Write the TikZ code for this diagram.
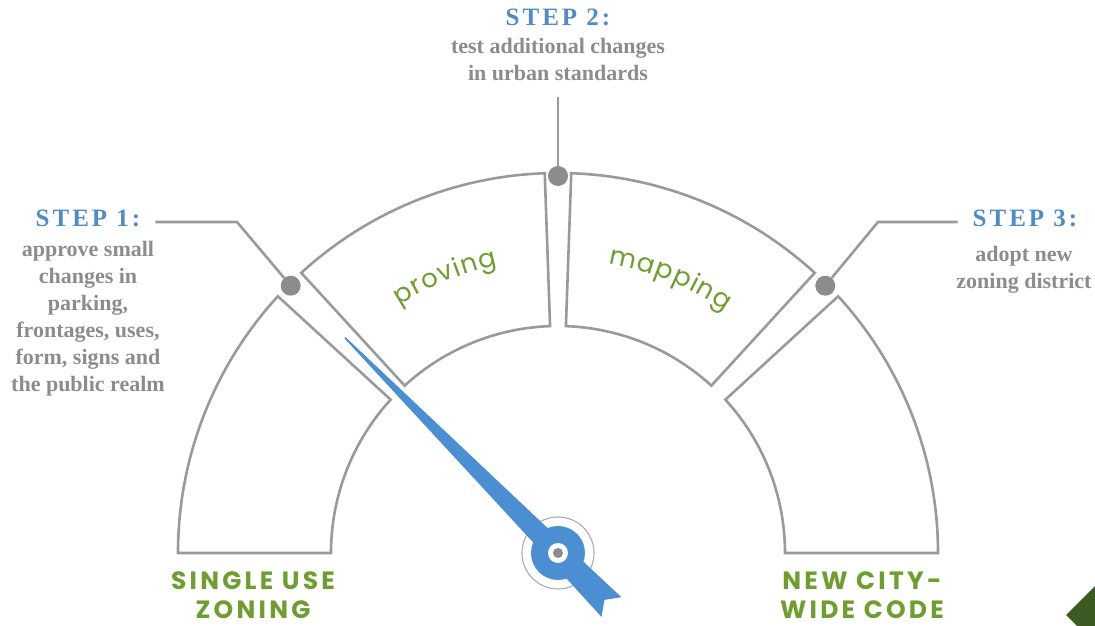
\documentclass[tikz,border=0pt]{standalone}
\usepackage{fontspec}
\setmainfont{Liberation Serif}
\newfontfamily\gaugefont{Poppins}
\usepackage{xcolor}
\usetikzlibrary{decorations.text}

\definecolor{stepblue}{HTML}{4F8BC9}
\definecolor{textgray}{HTML}{8C8C8C}
\definecolor{rimgray}{HTML}{9A9A9A}
\definecolor{ringgray}{HTML}{ABABAB}
\definecolor{zonegreen}{HTML}{6E9E2E}
\definecolor{needleblue}{HTML}{4B8FD2}
\definecolor{cornergreen}{HTML}{3D5A23}

\newcommand{\steptitle}{\fontsize{25}{30}\selectfont\bfseries\addfontfeatures{LetterSpace=12}}
\newcommand{\stepbody}{\fontsize{22}{27}\selectfont\bfseries}
\newcommand{\zonelabel}{\gaugefont\fontsize{25}{29}\selectfont\bfseries\addfontfeatures{LetterSpace=13}}
\newcommand{\arcfont}{\gaugefont\fontsize{26}{26}\selectfont}

\begin{document}
\begin{tikzpicture}[x=1pt,y=1pt,
  rim/.style={draw=rimgray, line width=2.6pt},
  leader/.style={draw=rimgray, line width=2.6pt},
  pin/.style={circle, fill=textgray, inner sep=0pt, minimum size=20pt},
  title/.style={text=stepblue, font=\steptitle, inner xsep=15pt, inner ysep=0pt},
  body/.style={text=textgray, font=\stepbody, align=center, inner sep=0pt},
  zone/.style={text=zonegreen, font=\zonelabel, align=center, inner sep=0pt},
  arclabel/.style={decorate, decoration={text effects along path, text={#1}, text align=center,
    text effects/.cd, text along path,
    character widths={font=\arcfont, inner xsep=0.6pt},
    characters={text=zonegreen, font=\arcfont, inner xsep=0.6pt}}}]
\useasboundingbox (-558,-73) rectangle (537,553);

% gauge segments
\foreach \a/\b in {180/137.5, 132.5/92, 88/47.5, 42.5/0}
  \draw[rim] (\a:380) arc (\a:\b:380) -- (\b:227) arc (\b:\a:227) -- cycle;

\path[arclabel=proving] (132.5:294) arc (132.5:92:294);
\path[arclabel=mapping] (88:294) arc (88:47.5:294);

% steps
\node[title] (step1) at (-470,335) {STEP 1:};
\node[body, anchor=north] (step1txt) at (-470,312)
  {approve small\\changes in\\parking,\\frontages, uses,\\form, signs and\\the public realm};
\node[title] (step2) at (0,536) {STEP 2:};
\node[body, anchor=north] (step2txt) at (0,515) {test additional changes\\in urban standards};
\node[title] (step3) at (467,335) {STEP 3:};
\node[body, anchor=north] (step3txt) at (466,307) {adopt new\\zoning district};

\coordinate (elbow1) at (-321,331);
\coordinate (elbow3) at (320,331);
\node[pin] (pin1) at (135:378) {};
\node[pin] (pin2) at (90:377) {};
\node[pin] (pin3) at (45:378) {};

\draw[leader] (step1.east |- elbow1) -- (elbow1) -- (pin1);
\draw[leader, shorten <=16pt] (step2txt) -- (pin2);
\draw[leader] (step3.west |- elbow3) -- (elbow3) -- (pin3);

% needle
\draw[ringgray, line width=1.1pt] (0,0) circle (36);
\begin{scope}[rotate=134.7]
  \fill[needleblue] (303,0.8) -- (0,11) -- (-76,14) -- (-66,0) -- (-76,-14) -- (0,-11) -- (303,-0.8) -- cycle;
\end{scope}
\fill[needleblue] (0,0) circle (27);
\fill[white] (0,0) circle (10);
\fill[textgray] (0,0) circle (5);

% end labels
\node[zone, anchor=north] (single) at (-305,-19) {SINGLE USE\\ZONING};
\node[zone, anchor=north] (citywide) at (304,-19) {NEW CITY-\\WIDE CODE};

\fill[cornergreen] (508,-62) -- (537,-33) -- (537,-73) -- (519,-73) -- cycle;
\end{tikzpicture}
\end{document}
